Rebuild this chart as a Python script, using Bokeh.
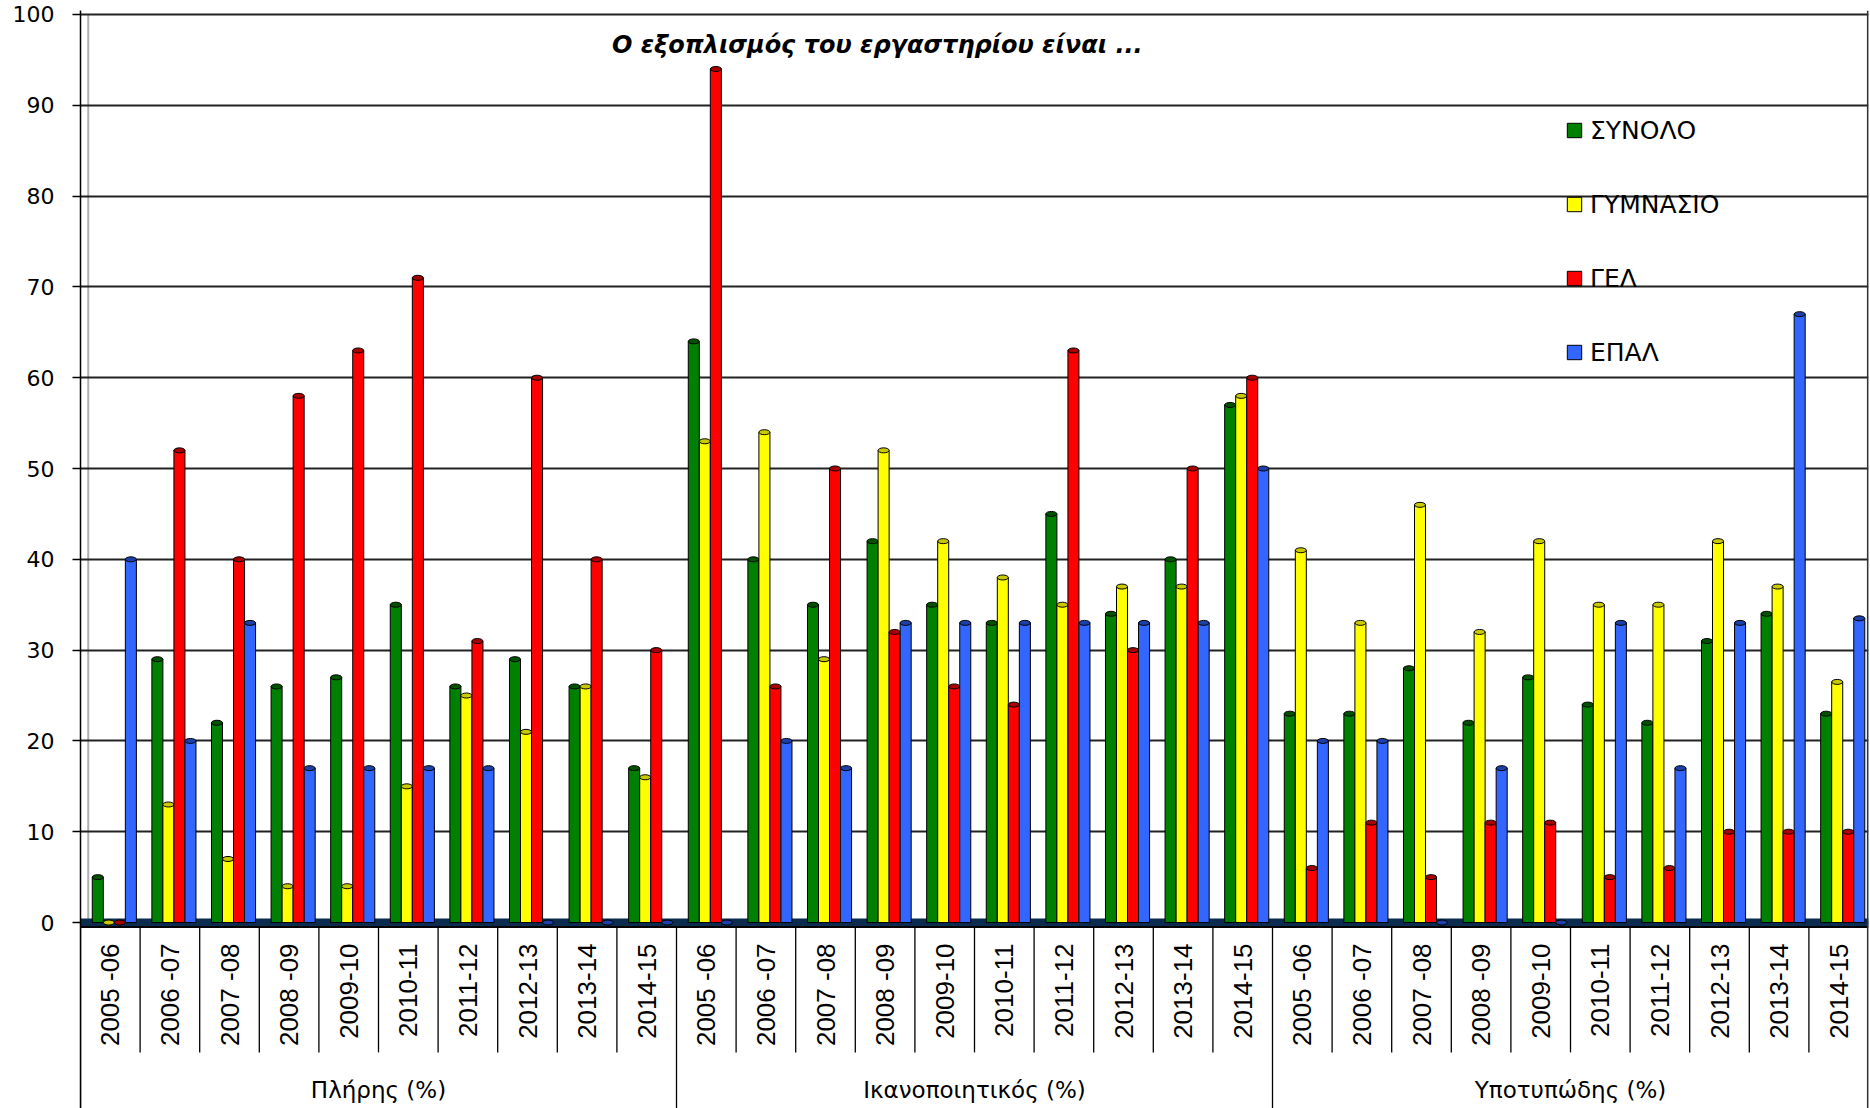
import math
from bokeh.plotting import figure
from bokeh.models import (ColumnDataSource, FactorRange, Range1d, FixedTicker, Legend,
                          LegendItem, Label, Span, BoxAnnotation)
from bokeh.transform import dodge
from bokeh.core.properties import value
from bokeh.embed import file_html
from bokeh.resources import INLINE

# ---------------- data ----------------
groups = ["Πλήρης (%)", "Ικανοποιητικός (%)", "Υποτυπώδης (%)"]
years = ["2005 -06", "2006 -07", "2007 -08", "2008 -09", "2009-10",
         "2010-11", "2011-12", "2012-13", "2013-14", "2014-15"]
series_names = ["ΣΥΝΟΛΟ", "ΓΥΜΝΑΣΙΟ", "ΓΕΛ", "ΕΠΑΛ"]
synolo = [5, 29, 22, 26, 27, 35, 26, 29, 26, 17,
          64, 40, 35, 42, 35, 33, 45, 34, 40, 57,
          23, 23, 28, 22, 27, 24, 22, 31, 34, 23]
gymnasio = [0, 13, 7, 4, 4, 15, 25, 21, 26, 16,
            53, 54, 29, 52, 42, 38, 35, 37, 37, 58,
            41, 33, 46, 32, 42, 35, 35, 42, 37, 26.5]
gel = [0, 52, 40, 58, 63, 71, 31, 60, 40, 30,
       94, 26, 50, 32, 26, 24, 63, 30, 50, 60,
       6, 11, 5, 11, 11, 5, 6, 10, 10, 10]
epal = [40, 20, 33, 17, 17, 17, 17, 0, 0, 0,
        0, 20, 17, 33, 33, 33, 33, 33, 33, 50,
        20, 20, 0, 17, 0, 33, 17, 33, 67, 33.5]
y_ticks = [0, 10, 20, 30, 40, 50, 60, 70, 80, 90, 100]
title_text = "Ο εξοπλισμός του εργαστηρίου είναι ..."

# ---------------- style ----------------
colors = ["#008000", "#ffff00", "#ff0000", "#3366ff"]
cap_colors = ["#005200", "#c9c900", "#a80000", "#1c3fa8"]
bar_w = 0.185
offsets = [-0.21, -0.025, 0.16, 0.345]

factors = [(g, y) for g in groups for y in years]
src = ColumnDataSource(dict(cat=factors, s0=synolo, s1=gymnasio, s2=gel, s3=epal))

x_range = FactorRange(factors=factors, factor_padding=0.0, group_padding=0.0,
                      subgroup_padding=0.0, range_padding=0.0)
p = figure(x_range=x_range, y_range=Range1d(-20.48, 100.44),
           width=1870, height=1108, output_backend="svg", toolbar_location=None,
           x_axis_location=None, min_border_left=80, min_border_right=2,
           min_border_top=10, min_border_bottom=0)
p.outline_line_color = None
p.background_fill_color = "white"
p.border_fill_color = "white"
p.xgrid.grid_line_color = None

# y axis
p.yaxis.ticker = FixedTicker(ticks=y_ticks)
p.yaxis.minor_tick_line_color = None
p.yaxis.major_tick_out = 8
p.yaxis.major_tick_in = 0
p.yaxis.major_tick_line_color = "black"
p.yaxis.major_tick_line_width = 1.5
p.yaxis.axis_line_color = "black"
p.yaxis.axis_line_width = 1.5
p.yaxis.major_label_standoff = 18
p.yaxis.major_label_text_font = "DejaVu Sans"
p.yaxis.major_label_text_font_size = "22px"
p.yaxis.major_label_text_color = "black"
p.ygrid.grid_line_color = "#222222"
p.ygrid.grid_line_width = 2

# back wall edge (only above the floor)
wall_src = ColumnDataSource(dict(cat=[factors[0]]))
p.segment(x0=dodge("cat", -0.37, range=p.x_range), y0=y_ticks[0],
          x1=dodge("cat", -0.37, range=p.x_range), y1=y_ticks[-1],
          source=wall_src, line_color="#b0b0b0", line_width=2, level="underlay")

# floor
p.add_layout(BoxAnnotation(bottom=-0.5, top=0.45, fill_color="#0b2c4f", fill_alpha=1.0,
                           line_color=None, level="underlay"))

# bars (cylinders)
legend_items = []
for i, name in enumerate(series_names):
    col = f"s{i}"
    xd = dodge("cat", offsets[i], range=p.x_range)
    r = p.vbar(x=xd, top=col, bottom=0, width=bar_w, source=src,
               fill_color=colors[i], line_color="black", line_width=1)
    p.ellipse(x=xd, y=col, width=bar_w, height=5, height_units="screen", source=src,
              fill_color=cap_colors[i], line_color="black", line_width=1)
    legend_items.append(LegendItem(label=name, renderers=[r]))

# category table under the floor
p.add_layout(Span(location=-0.5, dimension="width", line_color="black", line_width=2))
p.add_layout(Span(location=29.99, dimension="height", line_color="#333333", line_width=2))
div_src = ColumnDataSource(dict(
    cat=factors,
    y1=[-20.48 if f[1] == years[0] else -14.3 for f in factors]))
p.segment(x0=dodge("cat", -0.5, range=p.x_range), y0=-0.5,
          x1=dodge("cat", -0.5, range=p.x_range), y1="y1",
          source=div_src, line_color="black", line_width=1.3)

lab_src = ColumnDataSource(dict(cat=factors, txt=[f[1] for f in factors]))
p.text(x="cat", y=-2.3, text="txt", source=lab_src, angle=math.pi / 2,
       text_align="right", text_baseline="middle",
       text_font=value("Liberation Sans"), text_font_size="26px", text_color="black")
p.text(x=groups, y=[-18.4] * len(groups), text=groups, text_align="center",
       text_baseline="middle", text_font=value("DejaVu Sans"),
       text_font_size="23px", text_color="black")

# title
p.add_layout(Label(x=13.37, y=96.6, text=title_text, text_align="center",
                   text_baseline="middle", text_font="DejaVu Sans",
                   text_font_style="bold italic", text_font_size="24px",
                   text_color="black"))

# legend
legend = Legend(items=legend_items, location=(1485, 741), orientation="vertical",
                border_line_color=None, background_fill_alpha=0.0,
                label_text_font="DejaVu Sans", label_text_font_size="25px",
                label_text_color="black",
                glyph_width=18, glyph_height=18, label_height=30, spacing=44,
                padding=0, margin=0, label_standoff=7)
p.add_layout(legend)

open("out.html", "w").write(file_html(p, INLINE))
